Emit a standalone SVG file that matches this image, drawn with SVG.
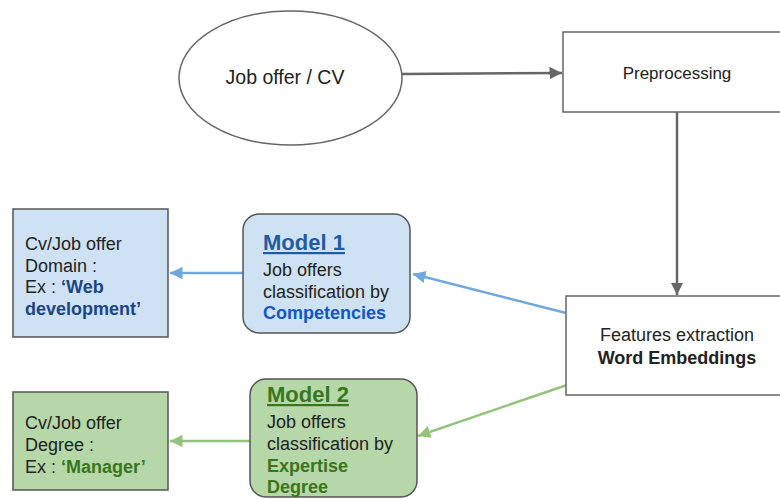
<svg xmlns="http://www.w3.org/2000/svg" width="780" height="499" viewBox="0 0 780 499">
<defs>
<style>
text{font-family:"Liberation Sans",Arial,sans-serif;fill:#222}
.b{font-size:18px}
.bold{font-weight:bold}
.plain{fill:#fff;stroke:#666;stroke-width:1.5}
.blue{fill:#cfe2f3;stroke:#555;stroke-width:1.5}
.green{fill:#b6d7a8;stroke:#555;stroke-width:1.5}
.cg{stroke:#666;stroke-width:2.5;fill:none}
.cb{stroke:#6fa8dc;stroke-width:2.5;fill:none}
.cgr{stroke:#93c47d;stroke-width:2.5;fill:none}
</style>
<marker id="ag" viewBox="0 0 10 10" refX="10" refY="5" markerWidth="5" markerHeight="5" orient="auto" markerUnits="strokeWidth"><path d="M0,0 L10,5 L0,10 z" fill="#666"/></marker>
<marker id="ab" viewBox="0 0 10 10" refX="10" refY="5" markerWidth="5" markerHeight="5" orient="auto" markerUnits="strokeWidth"><path d="M0,0 L10,5 L0,10 z" fill="#6fa8dc"/></marker>
<marker id="agr" viewBox="0 0 10 10" refX="10" refY="5" markerWidth="5" markerHeight="5" orient="auto" markerUnits="strokeWidth"><path d="M0,0 L10,5 L0,10 z" fill="#93c47d"/></marker>
</defs>
<rect width="780" height="499" fill="#fff"/>
<g id="connectors">
<line class="cg" x1="402" y1="74" x2="562" y2="73" marker-end="url(#ag)"/>
<line class="cg" x1="677" y1="112" x2="677" y2="295" marker-end="url(#ag)"/>
<line class="cb" x1="566" y1="313" x2="413" y2="274" marker-end="url(#ab)"/>
<line class="cb" x1="243" y1="273" x2="170" y2="273" marker-end="url(#ab)"/>
<line class="cgr" x1="567" y1="385" x2="418" y2="436" marker-end="url(#agr)"/>
<line class="cgr" x1="250" y1="441" x2="170" y2="441" marker-end="url(#agr)"/>
</g>
<g id="job-offer-cv">
<ellipse class="plain" cx="290.5" cy="78" rx="111.5" ry="67"/>
<text x="285" y="84" font-size="19.5" text-anchor="middle">Job offer / CV</text>
</g>
<g id="preprocessing">
<rect class="plain" x="563" y="32" width="230" height="80"/>
<text x="677" y="79" font-size="17" text-anchor="middle">Preprocessing</text>
</g>
<g id="features">
<rect class="plain" x="566" y="296" width="230" height="99"/>
<text class="b" x="677" y="341" text-anchor="middle">Features extraction</text>
<text class="b bold" x="677" y="363.5" text-anchor="middle">Word Embeddings</text>
</g>
<g id="model1">
<rect class="blue" x="243" y="214" width="167" height="119" rx="16"/>
<text x="263" y="250" font-size="22" font-weight="bold" fill="#1c5aa8" style="fill:#1f5ca6" text-decoration="underline">Model 1</text>
<text class="b" x="263" y="276">Job offers</text>
<text class="b" x="263" y="297.5">classification by</text>
<text class="b bold" x="263" y="319" style="fill:#1155cc">Competencies</text>
</g>
<g id="domain">
<rect class="blue" x="13" y="209" width="155" height="128"/>
<text class="b" x="25" y="250">Cv/Job offer</text>
<text class="b" x="25" y="271.5">Domain :</text>
<text class="b" x="25" y="293">Ex : <tspan class="bold" style="fill:#1c4587">‘Web</tspan></text>
<text class="b bold" x="25" y="314.5" style="fill:#1c4587">development’</text>
</g>
<g id="model2">
<rect class="green" x="250" y="379" width="167" height="118" rx="16"/>
<text x="267" y="402" font-size="22" font-weight="bold" style="fill:#38761d" text-decoration="underline">Model 2</text>
<text class="b" x="267" y="428">Job offers</text>
<text class="b" x="267" y="450">classification by</text>
<text class="b bold" x="267" y="471.5" style="fill:#38761d">Expertise</text>
<text class="b bold" x="267" y="493" style="fill:#38761d">Degree</text>
</g>
<g id="degree">
<rect class="green" x="13" y="392" width="155" height="98"/>
<text class="b" x="25" y="429">Cv/Job offer</text>
<text class="b" x="25" y="451">Degree :</text>
<text class="b" x="25" y="472.5">Ex : <tspan class="bold" style="fill:#38761d">‘Manager’</tspan></text>
</g>
</svg>
